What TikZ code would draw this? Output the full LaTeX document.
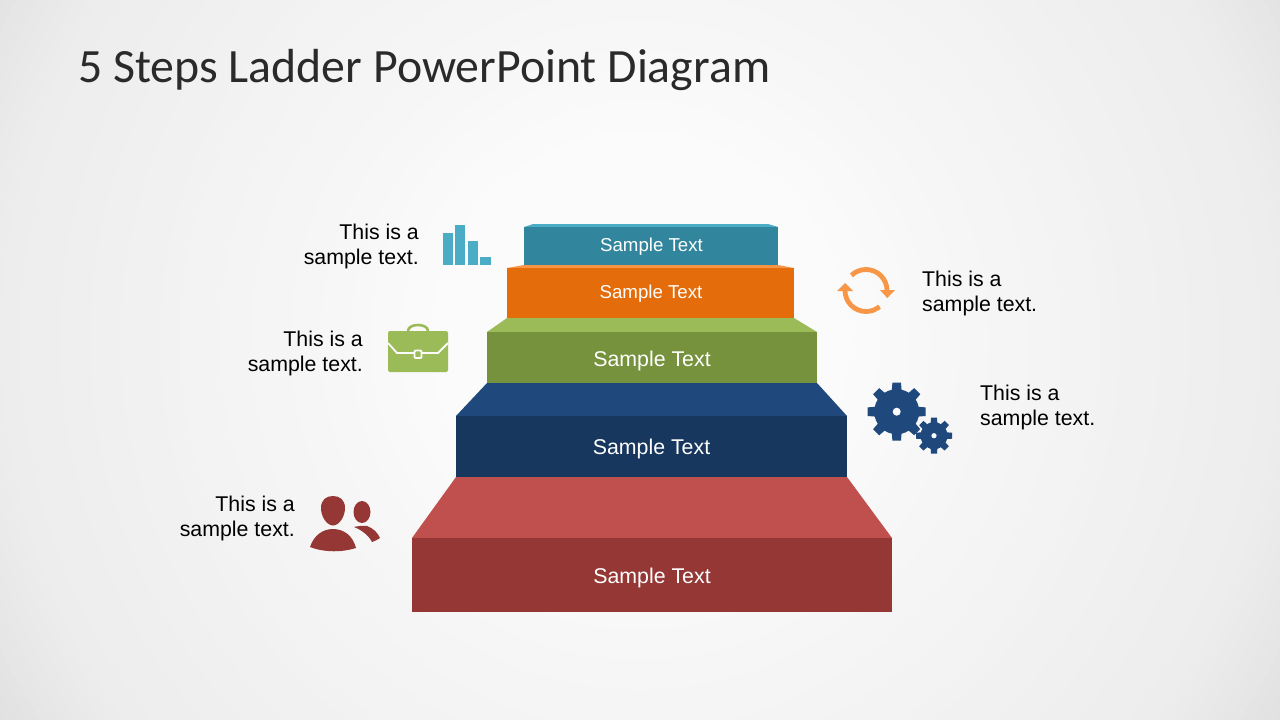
\documentclass[tikz,border=0pt]{standalone}
\usepackage{fontspec}
\setmainfont{Liberation Sans}
\newfontfamily\titlefont{Carlito}
\definecolor{bgA}{HTML}{FBFBFB}
\definecolor{tealF}{HTML}{31859C}
\definecolor{tealT}{HTML}{4BACC6}
\definecolor{oranF}{HTML}{E46C0A}
\definecolor{oranT}{HTML}{F79646}
\definecolor{grenF}{HTML}{76923C}
\definecolor{grenT}{HTML}{9BBB59}
\definecolor{navyF}{HTML}{17375E}
\definecolor{navyT}{HTML}{1F497D}
\definecolor{redF}{HTML}{953735}
\definecolor{redT}{HTML}{C0504D}
\definecolor{titleC}{HTML}{2A2A2A}
\tikzset{
  lab/.style={inner sep=0pt,font=\fontsize{21.33}{25}\selectfont,text=black},
  leftlab/.style={lab,align=right,anchor=east},
  rightlab/.style={lab,align=left,anchor=west},
  smalltxt/.style={inner sep=0pt,text=white,font=\fontsize{18.67}{22}\selectfont},
  bigtxt/.style={inner sep=0pt,text=white,font=\fontsize{21.33}{25}\selectfont},
}
\begin{document}
\begin{tikzpicture}[x=1pt,y=-1pt]
\useasboundingbox (0,0) rectangle (1280,720);
\begin{scope}
\clip (0,0) rectangle (1280,720);
% concentric bands, grey level as a function of the radius
\foreach \rr in {780,770,...,200} {
  \pgfmathsetmacro{\gv}{(\rr<340 ? 251-(\rr-200)*5/140 : (\rr<640 ? 246-(\rr-340)*9/300 : 237-(\rr-640)*10/95))/255}
  \definecolor{bandc}{gray}{\gv}
  \fill[bandc] (640,340) circle (\rr);
}
\end{scope}
\node[inner sep=0pt,anchor=west,text=titleC,font=\titlefont\fontsize{47.8}{54}\selectfont] (title) at (78,70) {5 Steps Ladder PowerPoint Diagram};
% steps
\fill[tealT] (524,227) -- (533,224) -- (768,224) -- (778,227) -- cycle;
\fill[tealF] (524,226.5) rectangle (778,265);
\fill[oranT] (507,268) -- (524,265) -- (778,265) -- (794,268) -- cycle;
\fill[oranF] (507,268) rectangle (794,318);
\fill[grenT] (487,332) -- (507,318) -- (794,318) -- (817,332) -- cycle;
\fill[grenF] (487,332) rectangle (817,383);
\fill[navyT] (456,416) -- (487,383) -- (817,383) -- (847,416) -- cycle;
\fill[navyF] (456,416) rectangle (847,477);
\fill[redT] (412,538) -- (456,477) -- (847,477) -- (892,538) -- cycle;
\fill[redF] (412,538) rectangle (892,612);
\node[smalltxt] (s1) at (651.5,247) {Sample Text};
\node[smalltxt] (s2) at (651,294) {Sample Text};
\node[bigtxt] (s3) at (652,360.5) {Sample Text};
\node[bigtxt] (s4) at (651.5,448.5) {Sample Text};
\node[bigtxt] (s5) at (652,577.5) {Sample Text};
% labels
\node[leftlab] (l1) at (419,246) {This is a\\sample text.};
\node[leftlab] (l2) at (363,353) {This is a\\sample text.};
\node[leftlab] (l3) at (295,518) {This is a\\sample text.};
\node[rightlab] (r1) at (922,293.5) {This is a\\sample text.};
\node[rightlab] (r2) at (980,407) {This is a\\sample text.};
% bars icon
\fill[tealT] (443,233) rectangle (453,265);
\fill[tealT] (455,225) rectangle (465,265);
\fill[tealT] (468,241) rectangle (478,265);
\fill[tealT] (480,257) rectangle (491,265);
% briefcase icon
\draw[grenT,line width=2.6pt] (408,331) .. controls (408,323) and (428,323) .. (428,331);
\fill[grenT,rounded corners=2pt] (388,331) rectangle (448,372);
\draw[bgA,line width=1.8pt] (388,343) -- (397,353) -- (414,353);
\draw[bgA,line width=1.8pt] (422,353) -- (438,353) -- (448,343);
\draw[bgA,line width=1.8pt,rounded corners=1pt] (414.5,350.5) rectangle (421.5,358);
% people icon
\fill[redF] (321,508) .. controls (321,500) and (326,496) .. (333,496) .. controls (340,496) and (345,500) .. (345,508) .. controls (345,517) and (339,525.5) .. (333,525.5) .. controls (327,525.5) and (321,517) .. cycle;
\fill[redF] (310,547) .. controls (314,535) and (323,529) .. (333,529) .. controls (344,529) and (353,536) .. (356,548) .. controls (342,552.5) and (324,552.5) .. cycle;
\fill[redF] (362,512) ellipse (8.5 and 11);
\fill[redF] (354,527) .. controls (358,526) and (363,525.5) .. (367,526) .. controls (373,528) and (378,533) .. (380,538) .. controls (377,540) and (375,541) .. (372,542) .. controls (369,536) and (362,530) .. cycle;
% refresh icon
\draw[oranT,line width=4.8pt] (866,290.5) ++(-134:21) arc[start angle=-134,end angle=0,radius=21];
\draw[oranT,line width=4.8pt] (866,290.5) ++(180:21) arc[start angle=180,end angle=50,radius=21];
\fill[oranT] (880,290) -- (895,290) -- (887.3,298) -- cycle;
\fill[oranT] (837,291) -- (853,291) -- (845,283) -- cycle;
% gears icon
\begin{scope}[shift={(896.7,411.7)}]
\fill[navyT] (0,0) circle (22.5);
\foreach \a in {0,45,...,315} {\fill[navyT,rotate=\a] (-4.3,-29) -- (4.3,-29) -- (5,-20) -- (-5,-20) -- cycle;}
\fill[bgA] (0,0) circle (4);
\end{scope}
\begin{scope}[shift={(934,435.7)}]
\fill[bgA] (0,0) circle (15);
\fill[navyT] (0,0) circle (13.5);
\foreach \a in {0,45,...,315} {\fill[navyT,rotate=\a] (-3,-18) -- (3,-18) -- (3.4,-12) -- (-3.4,-12) -- cycle;}
\fill[bgA] (0,0) circle (2.6);
\end{scope}
\end{tikzpicture}
\end{document}
